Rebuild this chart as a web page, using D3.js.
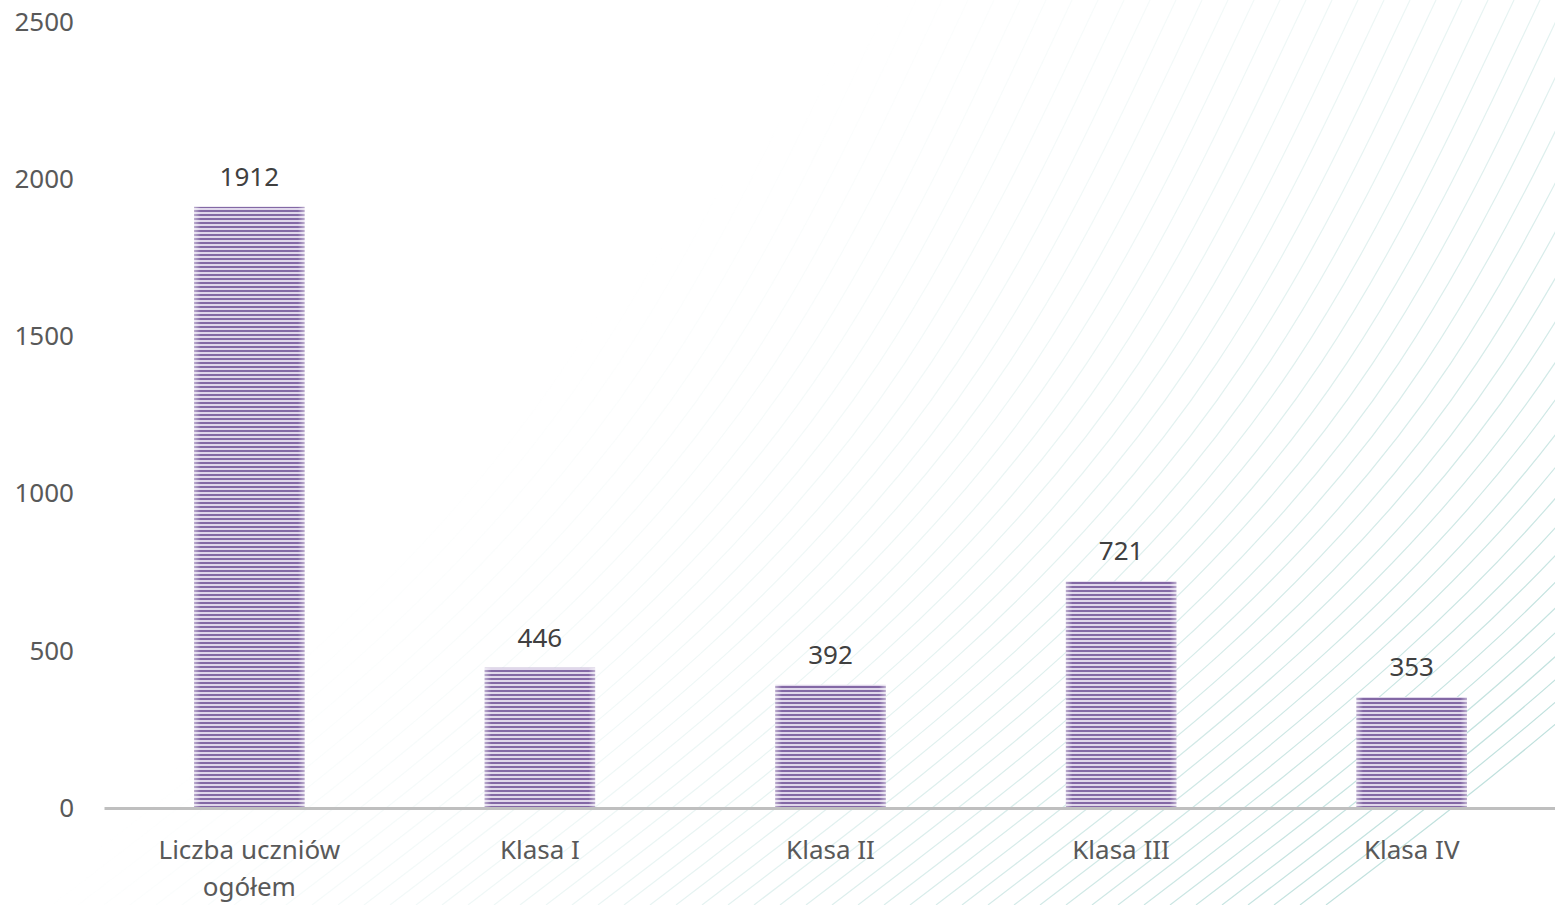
<!DOCTYPE html>
<html>
<head>
<meta charset="utf-8">
<script src="https://cdn.jsdelivr.net/npm/d3@7"></script>
<style>
  body { margin: 0; background: #fff; }
  svg { display: block; font-family: "Noto Sans", "Open Sans", sans-serif; }
</style>
</head>
<body>
<svg id="chart"></svg>
<script>
// dane
var categories = ["Liczba uczniów ogółem", "Klasa I", "Klasa II", "Klasa III", "Klasa IV"];
var labelLines = [["Liczba uczniów", "ogółem"], ["Klasa I"], ["Klasa II"], ["Klasa III"], ["Klasa IV"]];
var values = [1912, 446, 392, 721, 353];
var yTicks = [0, 500, 1000, 1500, 2000, 2500];

var svgwidth = 1555, svgheight = 905;
var margins = { top: 22, bottom: 97, left: 104, right: -2 };

var width = svgwidth - margins.left - margins.right;
var height = svgheight - margins.top - margins.bottom;

var svg = d3.select('#chart').attr('width', svgwidth).attr('height', svgheight);
var defs = svg.append('defs');

// stripes for bars
var pat = defs.append('pattern').attr('id', 'stripes')
	.attr('patternUnits', 'userSpaceOnUse')
	.attr('width', 8).attr('height', 4);
pat.append('rect').attr('width', 8).attr('height', 4).attr('fill', '#e0d7eb');
pat.append('rect').attr('y', 0).attr('width', 8).attr('height', 2).attr('fill', '#8368a5');

// soft edges on bars
var edge = defs.append('linearGradient').attr('id', 'edge')
	.attr('x1', 0).attr('x2', 1).attr('y1', 0).attr('y2', 0);
edge.append('stop').attr('offset', '0%').attr('stop-color', '#fff').attr('stop-opacity', 0.45);
edge.append('stop').attr('offset', '6%').attr('stop-color', '#fff').attr('stop-opacity', 0);
edge.append('stop').attr('offset', '94%').attr('stop-color', '#fff').attr('stop-opacity', 0);
edge.append('stop').attr('offset', '100%').attr('stop-color', '#fff').attr('stop-opacity', 0.45);

// fade for background swirl (visible toward the lower right)
var fade = defs.append('linearGradient').attr('id', 'fade')
	.attr('gradientUnits', 'userSpaceOnUse')
	.attr('x1', 750).attr('y1', 150).attr('x2', 1555).attr('y2', 905);
fade.append('stop').attr('offset', '0%').attr('stop-color', '#000');
fade.append('stop').attr('offset', '35%').attr('stop-color', '#444');
fade.append('stop').attr('offset', '100%').attr('stop-color', '#fff');
defs.append('mask').attr('id', 'fadeMask')
	.attr('maskUnits', 'userSpaceOnUse')
	.attr('x', 0).attr('y', 0).attr('width', svgwidth).attr('height', svgheight)
	.append('rect').attr('width', svgwidth).attr('height', svgheight).attr('fill', 'url(#fade)');

// decorative background lines
var bg = svg.append('g').attr('mask', 'url(#fadeMask)');
var curve = d3.line().curve(d3.curveBasis);
d3.range(0, 52).forEach(function(i){
	var s = 760 + i * 26;
	var pts = [[s - 760, 905], [s - 440, 660], [s - 180, 380], [s, 0]];
	bg.append('path')
		.attr('d', curve(pts))
		.attr('fill', 'none')
		.attr('stroke', '#b6dcd8')
		.attr('stroke-width', 1.2);
});

var plot = svg.append('g').attr('transform', 'translate(' + margins.left + ',' + margins.top + ')');

var x = d3.scaleBand().domain(categories).range([0, width]).paddingInner(0.62).paddingOuter(0.31);
var y = d3.scaleLinear().domain([0, 2500]).range([height, 0]);

// y axis labels
var yAxis = plot.append('g').call(d3.axisLeft(y).tickValues(yTicks).tickFormat(d3.format('d')).tickSize(0).tickPadding(30));
yAxis.select('.domain').remove();
yAxis.selectAll('text').attr('font-size', 26).attr('fill', '#595959')
	.attr('font-family', '"Noto Sans", sans-serif');

// bars
plot.selectAll('.bar').data(values).enter().append('rect').classed('bar', true)
	.attr('x', function(d, i){ return x(categories[i]); })
	.attr('y', function(d){ return y(d); })
	.attr('width', x.bandwidth())
	.attr('height', function(d){ return height - y(d); })
	.attr('fill', 'url(#stripes)');
plot.selectAll('.baredge').data(values).enter().append('rect').classed('baredge', true)
	.attr('x', function(d, i){ return x(categories[i]); })
	.attr('y', function(d){ return y(d); })
	.attr('width', x.bandwidth())
	.attr('height', function(d){ return height - y(d); })
	.attr('fill', 'url(#edge)');

// value labels
plot.selectAll('.val').data(values).enter().append('text').classed('val', true)
	.attr('x', function(d, i){ return x(categories[i]) + x.bandwidth() / 2; })
	.attr('y', function(d){ return y(d) - 21; })
	.attr('text-anchor', 'middle')
	.attr('font-size', 26)
	.attr('fill', '#404040')
	.text(function(d){ return d; });

// x axis
var xAxis = plot.append('g').attr('transform', 'translate(0,' + height + ')')
	.call(d3.axisBottom(x).tickSize(0).tickFormat(''));
xAxis.select('.domain').attr('stroke', '#bfbfbf').attr('stroke-width', 3);

plot.selectAll('.cat').data(labelLines).enter().append('text').classed('cat', true)
	.attr('x', function(d, i){ return x(categories[i]) + x.bandwidth() / 2; })
	.attr('y', height + 51)
	.attr('text-anchor', 'middle')
	.attr('font-size', 26)
	.attr('fill', '#595959')
	.each(function(d){
		var t = d3.select(this);
		d.forEach(function(line, j){
			t.append('tspan').attr('x', t.attr('x')).attr('dy', j === 0 ? 0 : 37).text(line);
		});
	});
</script>
</body>
</html>
